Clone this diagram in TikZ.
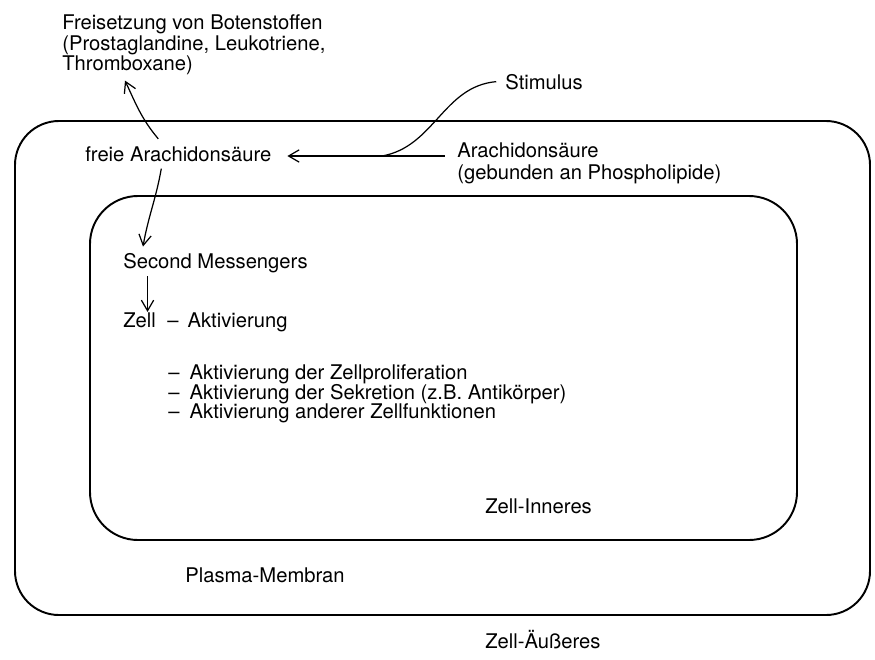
\documentclass[tikz,border=0pt]{standalone}
\usepackage{fontspec}
\setmainfont{TeX Gyre Heros}
\usetikzlibrary{arrows.meta}

\begin{document}
\begin{tikzpicture}[x=0.02cm,y=0.02cm,>={Straight Barb[length=6pt,width=7pt]},
  wand/.style={line width=1.1pt},
  txt/.style={inner sep=0pt,anchor=base west,font=\fontsize{11.5}{12}\selectfont},
  pfeil/.style={->,line width=0.7pt}]

  \useasboundingbox (0,0) rectangle (875,-659);

  % Plasma-Membran und Zell-Inneres
  \draw[wand,rounded corners=0.88cm] (15,-121) rectangle (870,-615);
  \draw[wand,rounded corners=0.96cm] (90,-196) rectangle (797,-540);

  \node[txt,anchor=north west,align=left,font=\fontsize{11.5}{11.9}\selectfont] (frei) at (62,-14)
    {Freisetzung von Botenstoffen\\(Prostaglandine, Leukotriene,\\Thromboxane)};
  \node[txt] (stim) at (505,-89) {Stimulus};
  \node[txt] (freie) at (85,-161) {freie Arachidonsäure};
  \node[txt] (ara) at (457,-157) {Arachidonsäure};
  \node[txt] (arb) at (457,-179) {(gebunden an Phospholipide)};
  \node[txt] (sec) at (123,-268) {Second Messengers};
  \node[txt] (zell) at (123,-327) {Zell};
  \node[txt] (akt) at (167,-327) {–\hspace{0.45em}Aktivierung};
  \node[txt,anchor=north west,align=left,font=\fontsize{11.5}{11.3}\selectfont] (liste) at (168,-364)
    {–\hspace{0.5em}Aktivierung der Zellproliferation\\
     –\hspace{0.5em}Aktivierung der Sekretion (z.B. Antikörper)\\
     –\hspace{0.5em}Aktivierung anderer Zellfunktionen};
  \node[txt] (inn) at (485,-513) {Zell-Inneres};
  \node[txt] (plm) at (185,-582) {Plasma-Membran};
  \node[txt] (aus) at (485,-648) {Zell-Äußeres};

  \coordinate (jn) at (382,-156);

  \draw[pfeil] ([xshift=-7pt]ara.west |- jn) -- ([xshift=9pt]freie.east |- jn);
  \draw[line width=0.7pt] ([xshift=-5pt]stim.west) to[out=185,in=10] (jn);
  \draw[pfeil] ([shift={(-20,7)}]freie.north) to[out=130,in=-65] ([shift={(63,-5)}]frei.south west);
  \draw[pfeil] ([shift={(-17,-7)}]freie.south) to[out=-100,in=80] ([shift={(20,6)}]sec.north west);
  \draw[pfeil] ([shift={(4.5pt,-2pt)}]zell.north |- sec.south) -- ([xshift=4.5pt]zell.north);

\end{tikzpicture}
\end{document}
